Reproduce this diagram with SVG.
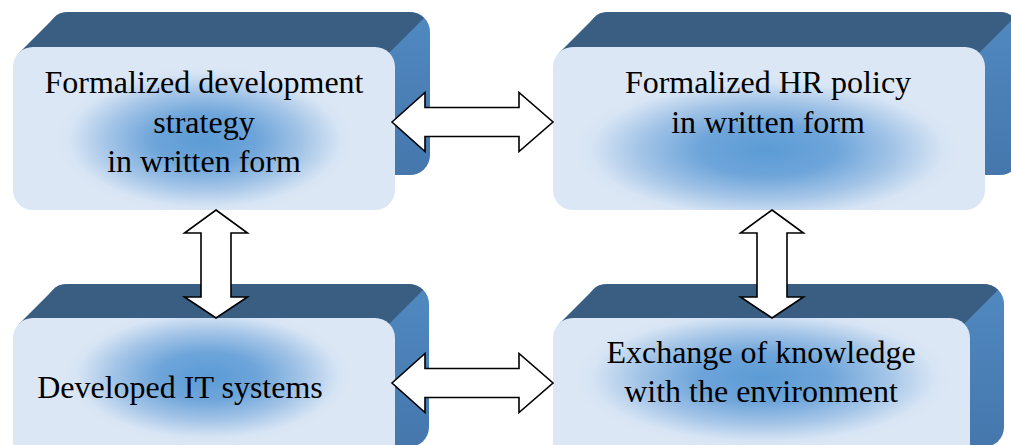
<svg xmlns="http://www.w3.org/2000/svg" width="1011" height="445" viewBox="0 0 1011 445">
<defs>
<linearGradient id="sideG" x1="0" y1="0" x2="0" y2="1">
<stop offset="0" stop-color="#5089c1"/>
<stop offset="1" stop-color="#4577ac"/>
</linearGradient>
<radialGradient id="gTL" gradientUnits="userSpaceOnUse" cx="0" cy="0" r="1" gradientTransform="translate(205,140) scale(150,74)">
<stop offset="0" stop-color="#5b9bd5"/>
<stop offset="0.35" stop-color="#6ea5da"/>
<stop offset="0.65" stop-color="#a3c4e7"/>
<stop offset="0.9" stop-color="#d6e4f4"/>
<stop offset="1" stop-color="#dce7f5"/>
</radialGradient>
<radialGradient id="gTR" gradientUnits="userSpaceOnUse" cx="0" cy="0" r="1" gradientTransform="translate(767,150) scale(195,74)">
<stop offset="0" stop-color="#5b9bd5"/>
<stop offset="0.35" stop-color="#6ea5da"/>
<stop offset="0.65" stop-color="#a3c4e7"/>
<stop offset="0.9" stop-color="#d6e4f4"/>
<stop offset="1" stop-color="#dce7f5"/>
</radialGradient>
<radialGradient id="gBL" gradientUnits="userSpaceOnUse" cx="0" cy="0" r="1" gradientTransform="translate(208,376) scale(145,68)">
<stop offset="0" stop-color="#5b9bd5"/>
<stop offset="0.35" stop-color="#6ea5da"/>
<stop offset="0.65" stop-color="#a3c4e7"/>
<stop offset="0.9" stop-color="#d6e4f4"/>
<stop offset="1" stop-color="#dce7f5"/>
</radialGradient>
<radialGradient id="gBR" gradientUnits="userSpaceOnUse" cx="0" cy="0" r="1" gradientTransform="translate(763,378) scale(190,70)">
<stop offset="0" stop-color="#5b9bd5"/>
<stop offset="0.35" stop-color="#6ea5da"/>
<stop offset="0.65" stop-color="#a3c4e7"/>
<stop offset="0.9" stop-color="#d6e4f4"/>
<stop offset="1" stop-color="#dce7f5"/>
</radialGradient>
</defs>
<style>
.side{fill:url(#sideG);}
.top{fill:#3a5e82;}
.lbl{font-family:"Liberation Serif","Times New Roman",serif;font-size:32px;fill:#000;text-anchor:middle;}
.arr{fill:#fff;stroke:#000;stroke-width:1.6;stroke-linejoin:miter;}
</style>
<rect width="1011" height="445" fill="#fff"/>

<g id="node-strategy">
<rect class="side" x="48" y="12" width="382" height="163" rx="20"/>
<path class="top" d="M19,53 L54,18 Q58,12 68,12 L410,12 Q418,12 424,18 L389,53 Z"/>
<rect x="13" y="47" width="382" height="163" rx="20" fill="url(#gTL)"/>
<text class="lbl" x="204" y="93">Formalized development</text>
<text class="lbl" x="204" y="132.5">strategy</text>
<text class="lbl" x="204" y="172">in written form</text>
</g>

<g id="node-hr">
<rect class="side" x="588" y="12" width="432" height="163" rx="20"/>
<path class="top" d="M559,53 L594,18 Q598,12 608,12 L1000,12 Q1008,12 1014,18 L979,53 Z"/>
<rect x="553" y="47" width="432" height="163" rx="20" fill="url(#gTR)"/>
<text class="lbl" x="768" y="93">Formalized HR policy</text>
<text class="lbl" x="768" y="133">in written form</text>
</g>

<g id="node-it">
<rect class="side" x="47" y="284" width="382" height="163" rx="20"/>
<path class="top" d="M19,324 L53,290 Q57,284 67,284 L409,284 Q417,284 423,290 L389,324 Z"/>
<rect x="13" y="318" width="382" height="163" rx="20" fill="url(#gBL)"/>
<text class="lbl" x="180" y="398">Developed IT systems</text>
</g>

<g id="node-exchange">
<rect class="side" x="587" y="284" width="417" height="163" rx="20"/>
<path class="top" d="M559,324 L593,290 Q597,284 607,284 L984,284 Q992,284 998,290 L964,324 Z"/>
<rect x="553" y="318" width="417" height="163" rx="20" fill="url(#gBR)"/>
<text class="lbl" x="761" y="363">Exchange of knowledge</text>
<text class="lbl" x="761" y="402">with the environment</text>
</g>

<g id="connectors">
<polygon class="arr" points="392,122 425,92.5 425,107.5 519,107.5 519,92.5 553,122 519,151.5 519,136.5 425,136.5 425,151.5"/>
<polygon class="arr" points="392,383 425,353.5 425,368.5 519,368.5 519,353.5 553,383 519,412.5 519,397.5 425,397.5 425,412.5"/>
<polygon class="arr" points="216,210 247.5,233 231,233 231,297 247.5,297 216,318 184.5,297 201,297 201,233 184.5,233"/>
<polygon class="arr" points="772,210 803.5,233 787,233 787,297 803.5,297 772,318 740.5,297 757,297 757,233 740.5,233"/>
</g>
</svg>
